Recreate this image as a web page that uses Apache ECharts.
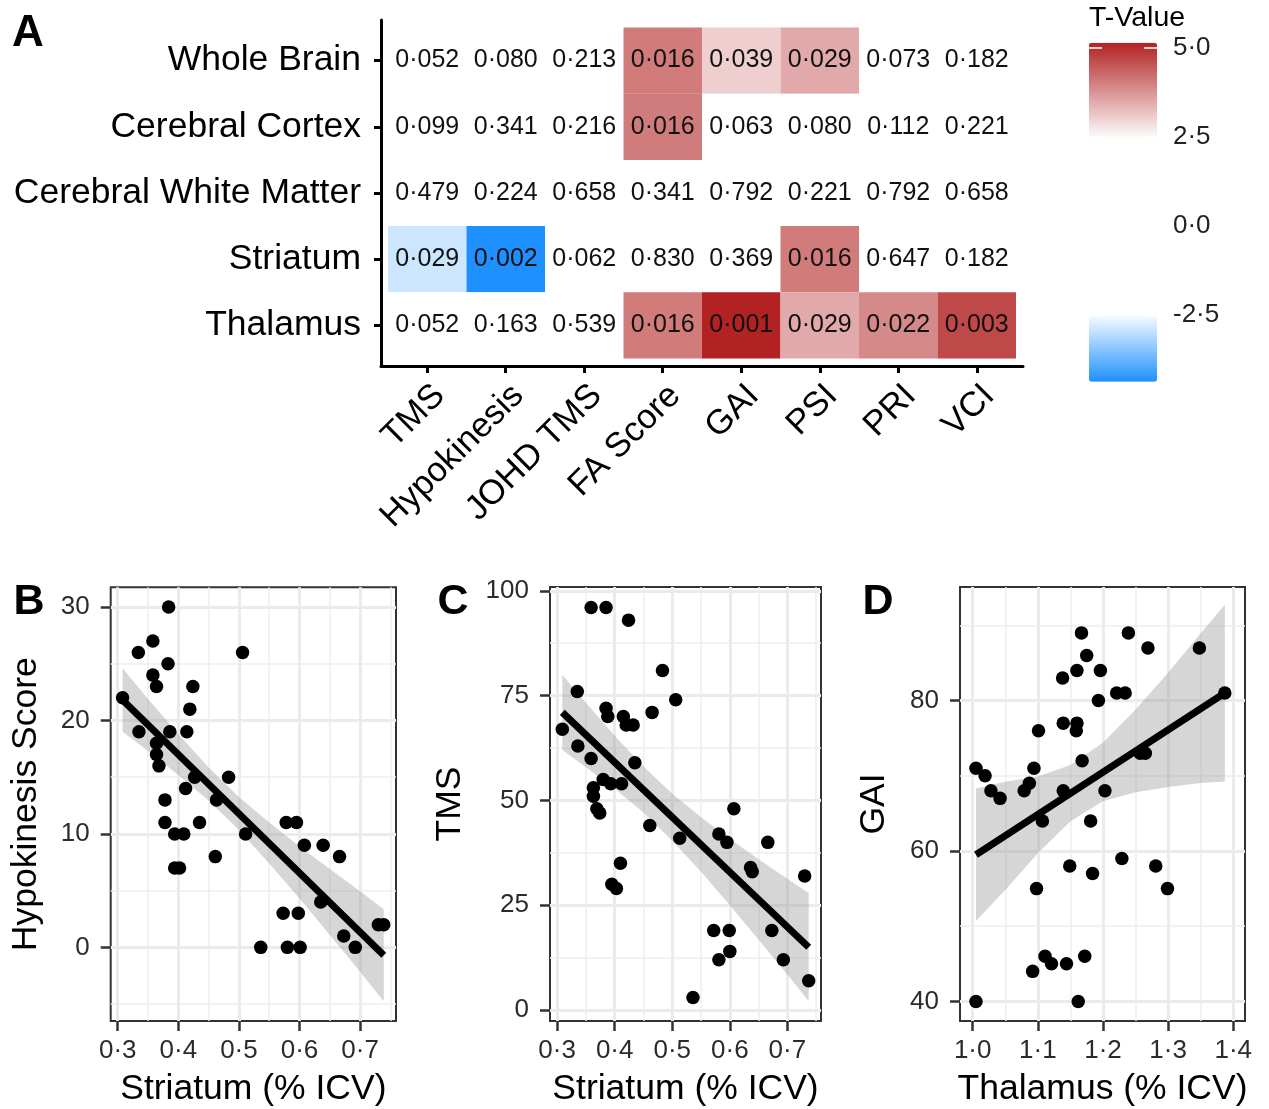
<!DOCTYPE html>
<html><head><meta charset="utf-8">
<script src="https://cdn.jsdelivr.net/npm/echarts@6/dist/echarts.min.js"></script>
<style>html,body{margin:0;padding:0;background:#fff}#c{width:1269px;height:1109px}</style>
</head><body><div id="c"></div>
<script>
// ---------- Panel A: heatmap ----------
const regions = ['Whole Brain', 'Cerebral Cortex', 'Cerebral White Matter', 'Striatum', 'Thalamus'];
const measures = ['TMS', 'Hypokinesis', 'JOHD TMS', 'FA Score', 'GAI', 'PSI', 'PRI', 'VCI'];
const pWholeBrain   = [0.052, 0.080, 0.213, 0.016, 0.039, 0.029, 0.073, 0.182];
const pCortex       = [0.099, 0.341, 0.216, 0.016, 0.063, 0.080, 0.112, 0.221];
const pWhiteMatter  = [0.479, 0.224, 0.658, 0.341, 0.792, 0.221, 0.792, 0.658];
const pStriatum     = [0.029, 0.002, 0.062, 0.830, 0.369, 0.016, 0.647, 0.182];
const pThalamus     = [0.052, 0.163, 0.539, 0.016, 0.001, 0.029, 0.022, 0.003];
const tWholeBrain   = [-2.0, -1.8, -1.3, 4.07, 3.04, 3.5, 1.9, 1.4];
const tCortex       = [-1.7, -1.0, -1.3, 4.05, 1.9, 1.8, 1.6, 1.3];
const tWhiteMatter  = [-0.7, -1.3, -0.5, 1.0, 0.3, 1.3, 0.3, 0.5];
const tStriatum     = [-2.88, -4.37, -1.9, 0.2, 0.9, 4.07, 0.5, 1.4];
const tThalamus     = [-2.0, -1.4, -0.6, 4.07, 5.15, 3.5, 3.89, 4.69];
const tRange = [-4.37, 5.15];
const legendTicks = [-2.5, 0, 2.5, 5];

// ---------- Panel B ----------
const bStriatum = [0.384,0.334,0.358,0.506,0.383,0.358,0.364,0.424,0.419,0.308,0.335,0.386,0.414,0.364,0.364,0.368,0.427,0.483,0.412,0.463,0.378,0.378,0.435,0.394,0.409,0.511,0.461,0.394,0.402,0.578,0.595,0.608,0.639,0.666,0.635,0.573,0.598,0.673,0.692,0.536,0.580,0.601,0.730,0.739];
const bHypokinesis = [30,26,27,26,25,24,23,23,21,22,19,19,19,18,17,16,15,15,14,13,13,11,11,10,10,10,8,7,7,11,11,9,9,8,4,3,3,1,0,0,0,0,2,2];
const bFitX = [0.308, 0.739];
const bFitY = [21.8, -0.7];
const bBandX = [0.308, 0.35, 0.40, 0.45, 0.50, 0.55, 0.60, 0.65, 0.70, 0.739];
const bBandUpper = [24.6, 21.9, 18.8, 15.85, 13.25, 11.0, 8.9, 6.9, 4.95, 3.35];
const bBandLower = [19.0, 17.3, 15.2, 12.95, 10.35, 7.4, 4.3, 1.1, -2.15, -4.75];
const bXTicks = [0.3, 0.4, 0.5, 0.6, 0.7];
const bXMinor = [0.35, 0.45, 0.55, 0.65, 0.75];
const bYTicks = [0, 10, 20, 30];
const bYMinor = [-5, 5, 15, 25];

// ---------- Panel C ----------
const cStriatum = [0.359,0.385,0.424,0.483,0.506,0.335,0.465,0.385,0.388,0.415,0.420,0.432,0.309,0.336,0.359,0.435,0.380,0.393,0.412,0.363,0.363,0.369,0.374,0.607,0.461,0.513,0.581,0.595,0.666,0.636,0.639,0.730,0.410,0.395,0.403,0.673,0.572,0.599,0.600,0.581,0.693,0.737,0.536];
const cTMS = [96,96,93,81,74,76,71,72,70,70,68,68,67,63,60,59,55,54,54,53,51,48,47,48,44,41,42,40,40,34,33,32,35,30,29,19,19,19,14,12,12,7,3];
const cFitX = [0.309, 0.737];
const cFitY = [71.0, 15.0];
const cBandX = [0.309, 0.35, 0.40, 0.45, 0.50, 0.55, 0.60, 0.65, 0.70, 0.737];
const cBandUpper = [80.0, 73.3, 65.4, 58.1, 51.6, 46.0, 40.8, 36.0, 31.3, 27.9];
const cBandLower = [62.0, 57.9, 52.8, 47.1, 40.4, 33.0, 25.0, 16.8, 8.5, 2.1];
const cXTicks = [0.3, 0.4, 0.5, 0.6, 0.7];
const cXMinor = [0.35, 0.45, 0.55, 0.65, 0.75];
const cYTicks = [0, 25, 50, 75, 100];
const cYMinor = [12.5, 37.5, 62.5, 87.5];

// ---------- Panel D ----------
const dThalamus = [1.005,1.162,1.005,1.019,1.028,1.042,1.079,1.087,1.094,1.101,1.107,1.098,1.092,1.111,1.121,1.144,1.172,1.149,1.184,1.229,1.281,1.299,1.181,1.139,1.203,1.168,1.139,1.160,1.159,1.193,1.221,1.234,1.138,1.160,1.196,1.175,1.167,1.239,1.269,1.348,1.387,1.257,1.265];
const dGAI = [40,40,71,70,68,67,68,69,71,76,64,55,44,46,45,45,46,58,57,59,58,55,64,68,68,72,77,77,76,80,81,81,83,84,84,86,89,89,87,87,81,73,73];
const dFitX = [1.005, 1.387];
const dFitY = [59.5, 81.0];
const dBandX = [1.005, 1.05, 1.10, 1.15, 1.20, 1.25, 1.30, 1.35, 1.387];
const dBandUpper = [68.3, 69.2, 69.9, 71.45, 74.4, 78.8, 83.7, 88.95, 92.75];
const dBandLower = [50.7, 54.8, 59.7, 63.95, 66.6, 67.8, 68.5, 69.05, 69.25];
const dXTicks = [1.0, 1.1, 1.2, 1.3, 1.4];
const dXMinor = [1.05, 1.15, 1.25, 1.35];
const dYTicks = [40, 60, 80];
const dYMinor = [50, 70, 90];

// ---------- helpers ----------
const FONT = '"Liberation Sans", Arial, Helvetica, sans-serif';
const dot = v => String(v).replace('.', '·');
const dec1 = v => dot(v.toFixed(1));
const pRows = [pWholeBrain, pCortex, pWhiteMatter, pStriatum, pThalamus];
const tRows = [tWholeBrain, tCortex, tWhiteMatter, tStriatum, tThalamus];
const heatData = [];
pRows.forEach((row, r) => row.forEach((p, c) => heatData.push([c + 1, r + 1, tRows[r][c], p])));

const FIRE = [178, 34, 34], DODGER = [30, 144, 255];
const WHITE_LO = -2.45, WHITE_HI = 2.45;
function tColor(t) {
  let c = [255, 255, 255], f = 0;
  if (t > WHITE_HI) { c = FIRE; f = (t - WHITE_HI) / (tRange[1] - WHITE_HI); }
  else if (t < WHITE_LO) { c = DODGER; f = (WHITE_LO - t) / (WHITE_LO - tRange[0]); }
  f = Math.max(0, Math.min(1, f));
  const m = c.map(v => Math.round(255 + (v - 255) * f));
  return 'rgb(' + m.join(',') + ')';
}
const colorStops = [];
for (let i = 0; i <= 200; i++) colorStops.push(tColor(tRange[0] + (tRange[1] - tRange[0]) * i / 200));

const pairs = (xs, ys) => xs.map((x, i) => [x, ys[i]]);

const tickStyle = { color: '#333', width: 2.5 };
const labelStyle = { fontFamily: FONT, fontSize: 26, color: '#2b2b2b' };
const nameStyle = { fontFamily: FONT, fontSize: 35.5, color: '#000' };

function majorAxis(grid, min, max, ticks, fmt, extra) {
  return Object.assign({
    type: 'value', gridIndex: grid, min: min, max: max,
    axisLine: { show: false, onZero: false },
    axisTick: { show: true, length: 10, lineStyle: tickStyle, customValues: ticks },
    axisLabel: Object.assign({ customValues: ticks, formatter: fmt, margin: 17 }, labelStyle),
    splitLine: { show: true, lineStyle: { color: '#EBEBEB', width: 3 } },
    nameTextStyle: nameStyle, nameLocation: 'middle'
  }, extra || {});
}
function minorAxis(grid, min, max, ticks) {
  return {
    type: 'value', gridIndex: grid, min: min, max: max,
    axisLine: { show: false, onZero: false },
    axisTick: { show: false, customValues: ticks },
    axisLabel: { show: false, customValues: ticks },
    splitLine: { show: true, lineStyle: { color: '#EEEEEE', width: 1.5 } }
  };
}
function panelSeries(xi, yi, xs, ys, fitX, fitY, bandX, bandLo, bandHi) {
  return [
    { type: 'scatter', xAxisIndex: xi, yAxisIndex: yi, data: pairs(xs, ys), symbolSize: 13.5,
      itemStyle: { color: '#000', opacity: 1 }, silent: true },
    { type: 'custom', xAxisIndex: xi, yAxisIndex: yi, silent: true,
      data: bandX.map((x, i) => [x, bandLo[i], bandHi[i]]), encode: { x: 0, y: [1, 2] },
      renderItem: function (params, api) {
        if (params.dataIndex !== 0) return null;
        const pts = [];
        for (let i = 0; i < bandX.length; i++) pts.push(api.coord([bandX[i], bandHi[i]]));
        for (let i = bandX.length - 1; i >= 0; i--) pts.push(api.coord([bandX[i], bandLo[i]]));
        return { type: 'polygon', shape: { points: pts }, style: { fill: 'rgba(153,153,153,0.4)' } };
      } },
    { type: 'line', xAxisIndex: xi, yAxisIndex: yi, data: pairs(fitX, fitY), symbol: 'none',
      lineStyle: { color: '#000', width: 7 }, silent: true }
  ];
}

const B = { min: 0.2884, max: 0.7592, ymin: -6.49, ymax: 31.74 };
const C = { min: 0.2876, max: 0.7584, ymin: -2.6, ymax: 100.9 };
const D = { min: 0.9805, max: 1.418, ymin: 37.4, ymax: 95.1 };

const option = {
  animation: false,
  backgroundColor: '#fff',
  textStyle: { fontFamily: FONT },
  grid: [
    { left: 381, top: 20, width: 642, height: 346 },
    { left: 1089, top: 42.7, width: 68, height: 339 },
    { left: 110.7, top: 587.3, width: 285.3, height: 433.7, show: true, borderColor: '#333', borderWidth: 2, backgroundColor: '#fff' },
    { left: 550, top: 587, width: 271, height: 434, show: true, borderColor: '#333', borderWidth: 2, backgroundColor: '#fff' },
    { left: 960, top: 587, width: 285, height: 434, show: true, borderColor: '#333', borderWidth: 2, backgroundColor: '#fff' }
  ],
  xAxis: [
    { type: 'value', gridIndex: 0, min: 0.411, max: 8.589,
      axisLine: { show: true, onZero: false, lineStyle: { color: '#000', width: 3 } },
      axisTick: { show: true, length: 7, lineStyle: { color: '#000', width: 3 }, customValues: [1,2,3,4,5,6,7,8] },
      axisLabel: { customValues: [1,2,3,4,5,6,7,8], formatter: v => measures[Math.round(v) - 1],
        rotate: 45, margin: 12, verticalAlign: 'top', fontFamily: FONT, fontSize: 34.5, color: '#000' },
      splitLine: { show: false } },
    { type: 'value', gridIndex: 1, min: 0, max: 1, show: false },
    majorAxis(2, B.min, B.max, bXTicks, dec1, { name: 'Striatum (% ICV)', nameGap: 50 }),
    minorAxis(2, B.min, B.max, bXMinor),
    majorAxis(3, C.min, C.max, cXTicks, dec1, { name: 'Striatum (% ICV)', nameGap: 50 }),
    minorAxis(3, C.min, C.max, cXMinor),
    majorAxis(4, D.min, D.max, dXTicks, dec1, { name: 'Thalamus (% ICV)', nameGap: 50 }),
    minorAxis(4, D.min, D.max, dXMinor)
  ],
  yAxis: [
    { type: 'value', gridIndex: 0, min: 0.387, max: 5.613, inverse: true,
      axisLine: { show: true, onZero: false, lineStyle: { color: '#000', width: 3 } },
      axisTick: { show: true, length: 7, lineStyle: { color: '#000', width: 3 }, customValues: [1,2,3,4,5] },
      axisLabel: { customValues: [1,2,3,4,5], formatter: v => regions[Math.round(v) - 1],
        margin: 20, fontFamily: FONT, fontSize: 35.5, color: '#000' },
      splitLine: { show: false } },
    { type: 'value', gridIndex: 1, min: tRange[0], max: tRange[1], position: 'right', z: 10,
      axisLine: { show: false, onZero: false }, splitLine: { show: false },
      axisTick: { show: true, inside: true, length: 13, lineStyle: { color: '#fff', width: 1.5 }, customValues: legendTicks },
      axisLabel: { customValues: legendTicks, formatter: dec1, margin: 16, fontFamily: FONT, fontSize: 26, color: '#222' } },
    { type: 'value', gridIndex: 1, min: tRange[0], max: tRange[1], position: 'left', z: 10,
      axisLine: { show: false, onZero: false }, splitLine: { show: false },
      axisTick: { show: true, inside: true, length: 13, lineStyle: { color: '#fff', width: 1.5 }, customValues: legendTicks },
      axisLabel: { show: false } },
    majorAxis(2, B.ymin, B.ymax, bYTicks, v => String(v), { name: 'Hypokinesis Score', nameGap: 66, axisLabel: Object.assign({ customValues: bYTicks, formatter: v => String(v), margin: 21 }, labelStyle) }),
    minorAxis(2, B.ymin, B.ymax, bYMinor),
    majorAxis(3, C.ymin, C.ymax, cYTicks, v => String(v), { name: 'TMS', nameGap: 82, axisLabel: Object.assign({ customValues: cYTicks, formatter: v => String(v), margin: 21 }, labelStyle) }),
    minorAxis(3, C.ymin, C.ymax, cYMinor),
    majorAxis(4, D.ymin, D.ymax, dYTicks, v => String(v), { name: 'GAI', nameGap: 68, axisLabel: Object.assign({ customValues: dYTicks, formatter: v => String(v), margin: 21 }, labelStyle) }),
    minorAxis(4, D.ymin, D.ymax, dYMinor)
  ],
  visualMap: [{
    type: 'continuous', min: tRange[0], max: tRange[1], dimension: 2, seriesIndex: 0,
    inRange: { color: colorStops }, left: 1089, top: 42.7, itemWidth: 68, itemHeight: 339,
    calculable: false, padding: 0, hoverLink: false, text: null, z: 2
  }],
  graphic: [
    { type: 'text', x: 28, y: 34, style: { text: 'A', font: 'bold 44px ' + FONT, fill: '#000', align: 'center', verticalAlign: 'middle' } },
    { type: 'text', x: 29, y: 602, style: { text: 'B', font: 'bold 43px ' + FONT, fill: '#000', align: 'center', verticalAlign: 'middle' } },
    { type: 'text', x: 453, y: 602, style: { text: 'C', font: 'bold 43px ' + FONT, fill: '#000', align: 'center', verticalAlign: 'middle' } },
    { type: 'text', x: 878, y: 602, style: { text: 'D', font: 'bold 43px ' + FONT, fill: '#000', align: 'center', verticalAlign: 'middle' } },
    { type: 'text', x: 1089, y: 18, style: { text: 'T-Value', font: '28.5px ' + FONT, fill: '#000', align: 'left', verticalAlign: 'middle' } }
  ],
  series: [
    { type: 'custom', xAxisIndex: 0, yAxisIndex: 0, data: heatData, silent: true,
      encode: { x: 0, y: 1 },
      renderItem: function (params, api) {
        const x = api.value(0), y = api.value(1);
        const p0 = api.coord([x - 0.5, y - 0.5]), p1 = api.coord([x + 0.5, y + 0.5]);
        const cx = (p0[0] + p1[0]) / 2, cy = (p0[1] + p1[1]) / 2;
        const label = dot(heatData[params.dataIndex][3].toFixed(3));
        return { type: 'group', children: [
          { type: 'rect', shape: { x: Math.min(p0[0], p1[0]), y: Math.min(p0[1], p1[1]),
              width: Math.abs(p1[0] - p0[0]), height: Math.abs(p1[1] - p0[1]) },
            style: { fill: api.visual('color') } },
          { type: 'text', style: { text: label, x: cx, y: cy, align: 'center', verticalAlign: 'middle',
              font: '25px ' + FONT, fill: '#111' } }
        ] };
      } }
  ]
    .concat(panelSeries(2, 3, bStriatum, bHypokinesis, bFitX, bFitY, bBandX, bBandLower, bBandUpper))
    .concat(panelSeries(4, 5, cStriatum, cTMS, cFitX, cFitY, cBandX, cBandLower, cBandUpper))
    .concat(panelSeries(6, 7, dThalamus, dGAI, dFitX, dFitY, dBandX, dBandLower, dBandUpper))
};

const chart = echarts.init(document.getElementById('c'), null, { renderer: 'canvas' });
chart.setOption(option);
</script>
</body></html>
